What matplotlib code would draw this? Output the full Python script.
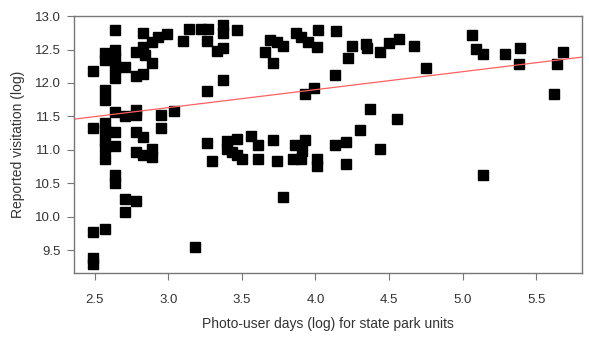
import numpy as np
import matplotlib.pyplot as plt

plt.rcParams['font.family'] = ['Liberation Sans', 'DejaVu Sans']

# photo-user days (log) and reported visitation (log)
photo_days = [2.49, 2.49, 2.49, 2.49, 2.49,
              2.57, 2.57, 2.57, 2.57, 2.57, 2.57, 2.57, 2.57, 2.57, 2.57,
              2.64, 2.64, 2.64, 2.64, 2.64, 2.64, 2.64, 2.64, 2.64, 2.64,
              2.71, 2.71, 2.71, 2.71,
              2.78, 2.78, 2.78, 2.78, 2.78, 2.78, 2.78,
              2.83, 2.83, 2.84, 2.83, 2.83, 2.83,
              2.89, 2.89, 2.89, 2.89,
              2.93, 2.99, 2.95, 2.95, 3.04, 3.10, 3.14, 3.18,
              3.22, 3.27, 3.26, 3.26, 3.26, 3.30,
              3.33, 3.37, 3.37, 3.37, 3.37,
              3.40, 3.40, 3.43, 3.47, 3.47, 3.50, 3.47,
              3.56, 3.61, 3.61,
              3.66, 3.69, 3.74, 3.78, 3.71, 3.71, 3.74, 3.78,
              3.87, 3.90, 3.95, 4.01, 4.02,
              3.86, 3.85, 3.90, 3.93, 3.91, 3.93, 3.99, 4.01, 4.01,
              4.14, 4.13, 4.13, 4.21, 4.21, 4.22, 4.25,
              4.30, 4.34, 4.35, 4.37, 4.44, 4.44, 4.50, 4.55, 4.57, 4.67, 4.75,
              5.06, 5.09, 5.14, 5.14, 5.29, 5.39, 5.38,
              5.62, 5.64, 5.68]
visitation = [12.18, 11.32, 9.77, 9.39, 9.30,
              12.45, 12.35, 11.90, 11.75, 11.40, 11.30, 11.15, 11.03, 10.86, 9.82,
              12.79, 12.50, 12.37, 12.22, 12.07, 11.57, 11.27, 11.06, 10.62, 10.50,
              12.24, 11.51, 10.27, 10.07,
              12.46, 12.10, 11.60, 11.52, 11.27, 10.97, 10.24,
              12.75, 12.54, 12.42, 12.14, 11.19, 10.92,
              12.62, 12.30, 11.02, 10.90,
              12.68, 12.73, 11.52, 11.32, 11.58, 12.63, 12.81, 9.54,
              12.81, 12.81, 12.63, 11.88, 11.10, 10.83,
              12.48, 12.52, 12.87, 12.75, 12.05,
              11.13, 11.02, 10.97, 11.16, 10.92, 10.86, 12.79,
              11.20, 11.07, 10.87,
              12.47, 12.65, 12.62, 12.56, 12.30, 11.15, 10.83, 10.29,
              12.74, 12.68, 12.62, 12.54, 12.79,
              11.07, 10.87, 10.87, 11.15, 10.98, 11.84, 11.92, 10.87, 10.76,
              12.77, 12.12, 11.07, 11.11, 10.79, 12.38, 12.56,
              11.30, 12.59, 12.53, 11.61, 12.46, 11.02, 12.60, 11.46, 12.66, 12.56, 12.22,
              12.72, 12.51, 12.43, 10.62, 12.43, 12.53, 12.28,
              11.83, 12.28, 12.46]

# fitted regression line (intercept, slope)
fit_intercept = 10.824
fit_slope = 0.269

x_ticks = [2.5, 3.0, 3.5, 4.0, 4.5, 5.0, 5.5]
y_ticks = [9.5, 10.0, 10.5, 11.0, 11.5, 12.0, 12.5, 13.0]

fig = plt.figure(figsize=(5.89, 3.5), dpi=100)
ax = fig.add_axes([0.1248, 0.219, 0.8632, 0.735])

ax.plot(photo_days, visitation, 's', color='black', markersize=6.5, linestyle='none')

xlim = (2.357, 5.809)
xs = np.array(xlim)
ax.plot(xs, fit_intercept + fit_slope * xs, color='#ff6060', linewidth=0.9)

ax.set_xlim(*xlim)
ax.set_ylim(9.153, 13.0)
ax.set_xticks(x_ticks)
ax.set_yticks(y_ticks)
ax.set_xticklabels([f'{t:.1f}' for t in x_ticks])
ax.set_yticklabels([f'{t:.1f}' for t in y_ticks])

for s in ax.spines.values():
    s.set_color('#777777')
    s.set_linewidth(1.0)
ax.tick_params(axis='both', length=5, width=0.8, color='#777777',
               labelsize=9.5, labelcolor='#333333')
ax.tick_params(axis='x', pad=10)
ax.tick_params(axis='y', pad=4)

ax.set_xlabel('Photo-user days (log) for state park units', fontsize=10,
              color='#333333', labelpad=8)
ax.set_ylabel('Reported visitation (log)', fontsize=10, color='#333333', labelpad=7)

fig.savefig('out.png', dpi=100)
